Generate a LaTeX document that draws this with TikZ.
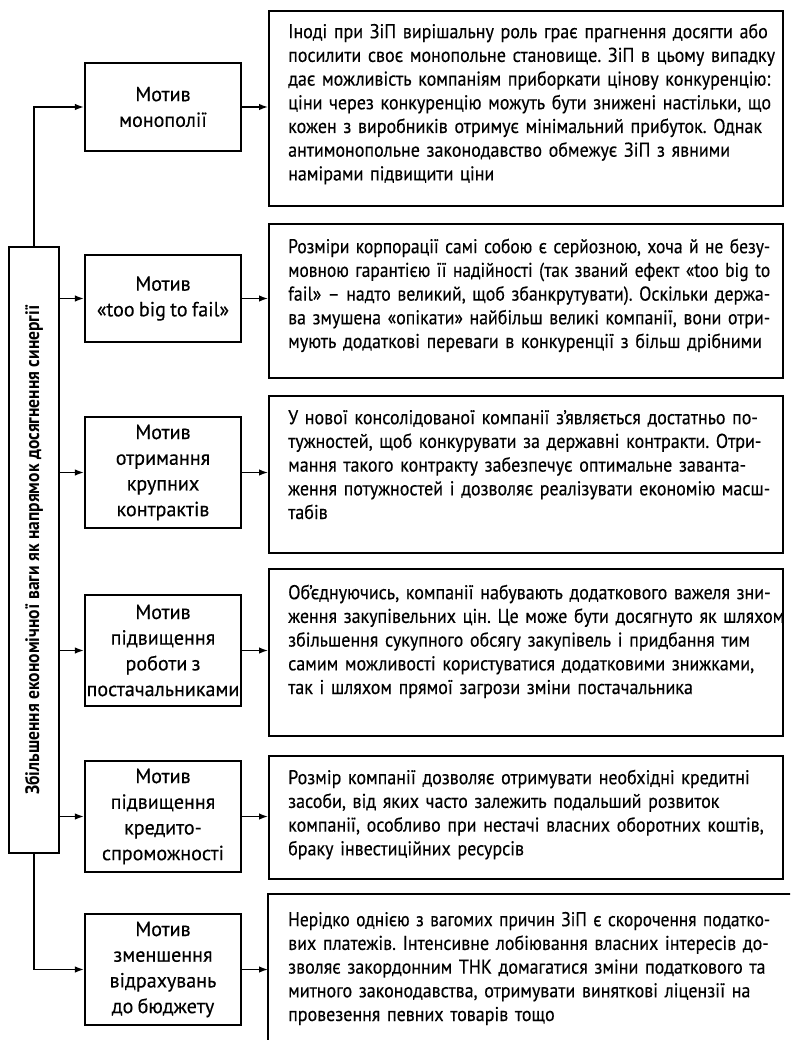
\documentclass[tikz,border=0pt]{standalone}
\usepackage{fontspec}
\usepackage{graphicx}
\setmainfont{PT Sans}[FakeStretch=0.90, FakeBold=0.3]
\newfontfamily\motivefont{PT Sans}[FakeStretch=0.98, WordSpace=0.8, FakeBold=0.3]
\newfontfamily\titlefont{PT Sans}[FakeStretch=0.90]
\usetikzlibrary{arrows.meta}
\setlength\parindent{0pt}
\frenchspacing
\newlength\descw
\setlength\descw{482pt}
\newsavebox\linebox
% one justified line of a description; squeezed when it is too long
\newcommand\jl[1]{\sbox\linebox{#1}%
  \ifdim\wd\linebox>\descw\resizebox{\descw}{\height}{#1}%
  \else\makebox[\descw][s]{#1}\fi}
\newcommand\firstline{\rule{0pt}{18pt}}
\newcommand\descfont{\fontsize{20}{23.7}\selectfont
  \spaceskip=4.6pt plus 4pt minus 2.2pt\relax}
\tikzset{
  frame/.style={draw=black, line width=2.2pt, inner sep=0pt},
  motive/.style={frame, minimum width=156pt, align=center,
    font=\motivefont\fontsize{20.5}{25.7}\selectfont},
  descbox/.style={frame, minimum width=514pt, anchor=north west},
  desctext/.style={inner sep=0pt, anchor=north west, text width=504pt, align=left,
    font=\descfont},
  arr/.style={line width=1.4pt, -{Latex[length=9pt,width=6.5pt]}},
}
\begin{document}
\begin{tikzpicture}[x=1pt,y=-1pt]
\clip (0,0) rectangle (790,1040);

% central block with the rotated title
\node[frame, minimum width=50pt, minimum height=606pt] (main) at (34,550) {};
\node[rotate=90, inner sep=0pt, font=\titlefont\bfseries\fontsize{19.5}{22}\selectfont] (title) at (main.center)
  {Збільшення економічної ваги як напрямок досягнення синергії};

% motive boxes
\node[motive, minimum height=88pt]  (m1) at (163,107)   {Мотив\\монополії};
\node[motive, minimum height=87pt]  (m2) at (163,298.5) {Мотив\\«too big to fail»};
\node[motive, minimum height=111pt] (m3) at (163,472.5) {Мотив\\отримання\\крупних\\контрактів};
\node[motive, minimum height=111pt] (m4) at (163,650.5) {Мотив\\підвищення\\роботи з\\постачальниками};
\node[motive, minimum height=111pt] (m5) at (163,816.5) {Мотив\\підвищення\\кредито-\\спроможності};
\node[motive, minimum height=111pt] (m6) at (163,969.5) {Мотив\\зменшення\\відрахувань\\до бюджету};

% description frames
\node[descbox, minimum height=195pt] (d1) at (268,10)  {};
\node[descbox, minimum height=154pt] (d2) at (268,223) {};
\node[descbox, minimum height=157pt] (d3) at (268,395) {};
\node[descbox, minimum height=167pt] (d4) at (268,568) {};
\node[descbox, minimum height=123pt] (d5) at (268,755) {};
% the last frame runs off the lower edge
\coordinate (d6) at (268,894);
\draw[line width=2.2pt] (268,1060) -- (d6) -- (800,894);

% description texts
\node[desctext] (t1) at (288,20) {\firstline Іноді при ЗіП вирішальну роль грає прагнення досягти або\\
посилити своє монопольне становище. ЗіП в цьому випадку\\
дає можливість компаніям приборкати цінову конкуренцію:\\
ціни через конкуренцію можуть бути знижені настільки, що\\
кожен з виробників отримує мінімальний прибуток. Однак\\
антимонопольне законодавство обмежує ЗіП з явними\\
намірами підвищити ціни};

\node[desctext] (t2) at (288,235) {\firstline\jl{Розміри корпорації самі собою є серйозною, хоча й не безу-}\\
\jl{мовною гарантією її надійності (так званий ефект «too big to}\\
\jl{fail» – надто великий, щоб збанкрутувати). Оскільки держа-}\\
\jl{ва змушена «опікати» найбільш великі компанії, вони отри-}\\
мують додаткові переваги в конкуренції з більш дрібними};

\node[desctext] (t3) at (288,406) {\firstline\jl{У нової консолідованої компанії з'являється достатньо по-}\\
\jl{тужностей, щоб конкурувати за державні контракти. Отри-}\\
\jl{мання такого контракту забезпечує оптимальне заванта-}\\
\jl{ження потужностей і дозволяє реалізувати економію масш-}\\
табів};

\node[desctext] (t4) at (288,581) {\firstline Об'єднуючись, компанії набувають додаткового важеля зни-\\
ження закупівельних цін. Це може бути досягнуто як шляхом\\
збільшення сукупного обсягу закупівель і придбання тим\\
самим можливості користуватися додатковими знижками,\\
так і шляхом прямої загрози зміни постачальника};

\node[desctext] (t5) at (288,766) {\firstline Розмір компанії дозволяє отримувати необхідні кредитні\\
засоби, від яких часто залежить подальший розвиток\\
компанії, особливо при нестачі власних оборотних коштів,\\
браку інвестиційних ресурсів};

\node[desctext] (t6) at (288,908) {\firstline\jl{Нерідко однією з вагомих причин ЗіП є скорочення податко-}\\
\jl{вих платежів. Інтенсивне лобіювання власних інтересів до-}\\
\jl{зволяє закордонним ТНК домагатися зміни податкового та}\\
\jl{митного законодавства, отримувати виняткові ліцензії на}\\
провезення певних товарів тощо};

% connectors from the central block
\draw[arr] (main.north) |- (m1.west);
\draw[arr] (m2.west -| main.east) -- (m2.west);
\draw[arr] (m3.west -| main.east) -- (m3.west);
\draw[arr] (m4.west -| main.east) -- (m4.west);
\draw[arr] (m5.west -| main.east) -- (m5.west);
\draw[arr] (main.south) |- (m6.west);

% connectors to the descriptions
\draw[arr] (m1.east) -- (m1.east -| d1.west);
\draw[arr] (m2.east) -- (m2.east -| d2.west);
\draw[arr] (m3.east) -- (m3.east -| d3.west);
\draw[arr] (m4.east) -- (m4.east -| d4.west);
\draw[arr] (m5.east) -- (m5.east -| d5.west);
\draw[arr] (m6.east) -- (m6.east -| d6);
\end{tikzpicture}
\end{document}
